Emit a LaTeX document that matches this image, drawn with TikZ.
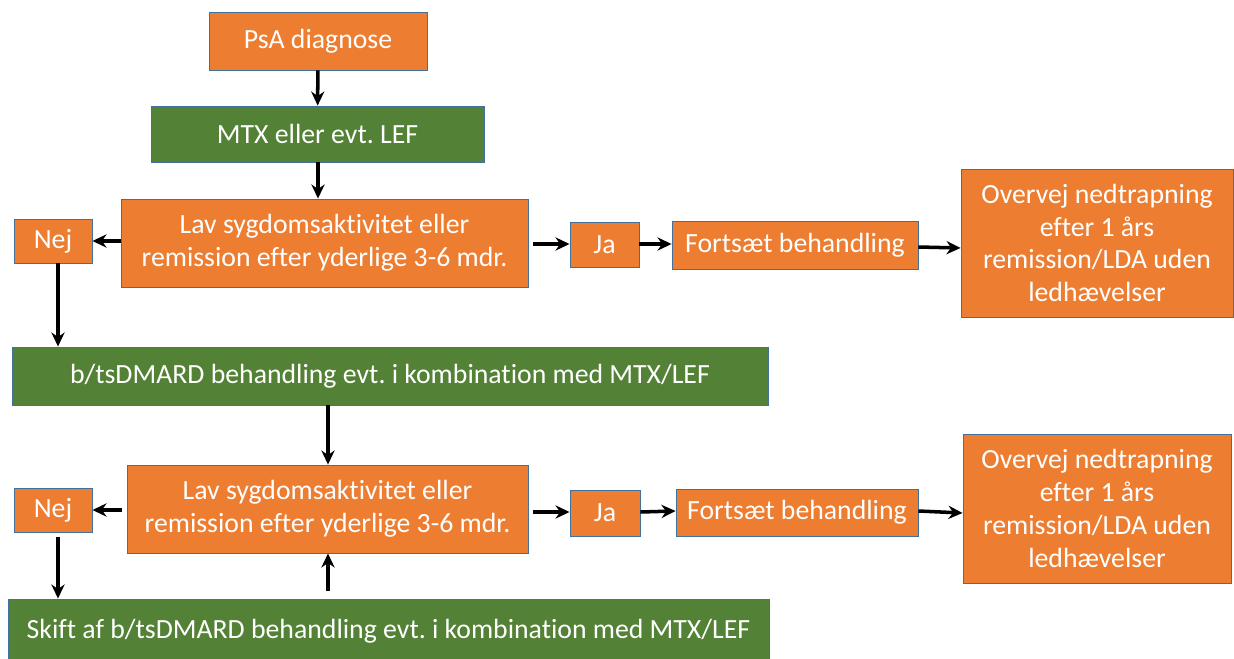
\documentclass[tikz,border=0pt]{standalone}
\usepackage{fontspec}
\setmainfont{Carlito}[Ligatures=NoCommon]
\usetikzlibrary{arrows.meta}
\frenchspacing

\definecolor{boxorange}{HTML}{ED7D31}
\definecolor{boxgreen}{HTML}{538135}
\definecolor{boxline}{HTML}{41719C}

\begin{document}
\begin{tikzpicture}[x=0.02cm, y=-0.02cm,
    box/.style={draw=boxline, line width=0.5pt, fill=boxorange, text=white, align=center,
        inner sep=0pt, font=\fontsize{15.8}{18.7}\selectfont},
    greenbox/.style={box, fill=boxgreen},
    arr/.style={-{Stealth[length=8pt, width=7.5pt]}, line width=2pt}]
        \useasboundingbox (0,0) rectangle (1234,659);

        % Nodes
        \node[box, minimum width=218*0.02cm, minimum height=58*0.02cm] (psa) at (318,41) {PsA diagnose};
        \node[greenbox, minimum width=333*0.02cm, minimum height=56*0.02cm] (mtx) at (317.5,134) {MTX eller evt. LEF};
        \node[box, minimum width=407*0.02cm, minimum height=88*0.02cm] (lav1) at (324.5,243) {Lav sygdomsaktivitet eller\\remission efter yderlige 3-6 mdr.};
        \node[box, minimum width=78*0.02cm, minimum height=44*0.02cm] (nej1) at (53,241) {Nej};
        \node[box, minimum width=69*0.02cm, minimum height=45*0.02cm] (ja1) at (604.5,244.5) {Ja};
        \node[box, minimum width=246*0.02cm, minimum height=48*0.02cm] (fort1) at (795,245) {Fortsæt behandling};
        \node[box, minimum width=272*0.02cm, minimum height=148*0.02cm] (over1) at (1097,243) {Overvej nedtrapning\\efter 1 års\\remission/LDA uden\\ledhævelser};
        \node[greenbox, minimum width=756*0.02cm, minimum height=58*0.02cm] (bts) at (390,376) {b/tsDMARD behandling evt. i kombination med MTX/LEF};

        \node[box, minimum width=401*0.02cm, minimum height=88*0.02cm] (lav2) at (327.5,509) {Lav sygdomsaktivitet eller\\remission efter yderlige 3-6 mdr.};
        \node[box, minimum width=78*0.02cm, minimum height=44*0.02cm] (nej2) at (53,510) {Nej};
        \node[box, minimum width=70*0.02cm, minimum height=46*0.02cm] (ja2) at (605,513) {Ja};
        \node[box, minimum width=242*0.02cm, minimum height=47*0.02cm] (fort2) at (797,512.5) {Fortsæt behandling};
        \node[box, minimum width=268*0.02cm, minimum height=149*0.02cm] (over2) at (1097,508.5) {Overvej nedtrapning\\efter 1 års\\remission/LDA uden\\ledhævelser};
        \node[greenbox, minimum width=761*0.02cm, minimum height=64*0.02cm] (skift) at (388.5,631) {Skift af b/tsDMARD behandling evt. i kombination med MTX/LEF};

        % Edges
        \draw[arr] (psa) -- (mtx);
        \draw[arr] (mtx.south -| 318,0) -- (lav1.north -| 318,0);
        \draw[arr] (lav1.west |- 0,241) -- (nej1.east |- 0,241);
        \draw[arr] ([xshift=0.1cm]lav1.east |- 0,244) -- (ja1.west |- 0,244);
        \draw[arr] (ja1.east |- 0,244) -- (fort1.west |- 0,244);
        \draw[arr] (fort1.east |- 0,247) -- (over1.west |- 0,248);
        \draw[arr] (nej1.south -| 58,0) -- (bts.north -| 58,0);
        \draw[arr] (bts.south -| 328,0) -- (lav2.north -| 328,0);

        \draw[arr] ([xshift=-0.1cm]lav2.west |- 0,510) -- (nej2.east |- 0,510);
        \draw[arr] ([xshift=0.1cm]lav2.east |- 0,512) -- (ja2.west |- 0,512);
        \draw[arr] (ja2.east |- 0,512) -- (fort2.west |- 0,511);
        \draw[arr] (fort2.east |- 0,511) -- (over2.west |- 0,513);
        \draw[arr] ([yshift=-0.1cm]nej2.south -| 58,0) -- (skift.north -| 58,0);
        \draw[arr] ([yshift=0.15cm]skift.north -| 328,0) -- (lav2.south -| 328,0);
    \end{tikzpicture}
\end{document}
